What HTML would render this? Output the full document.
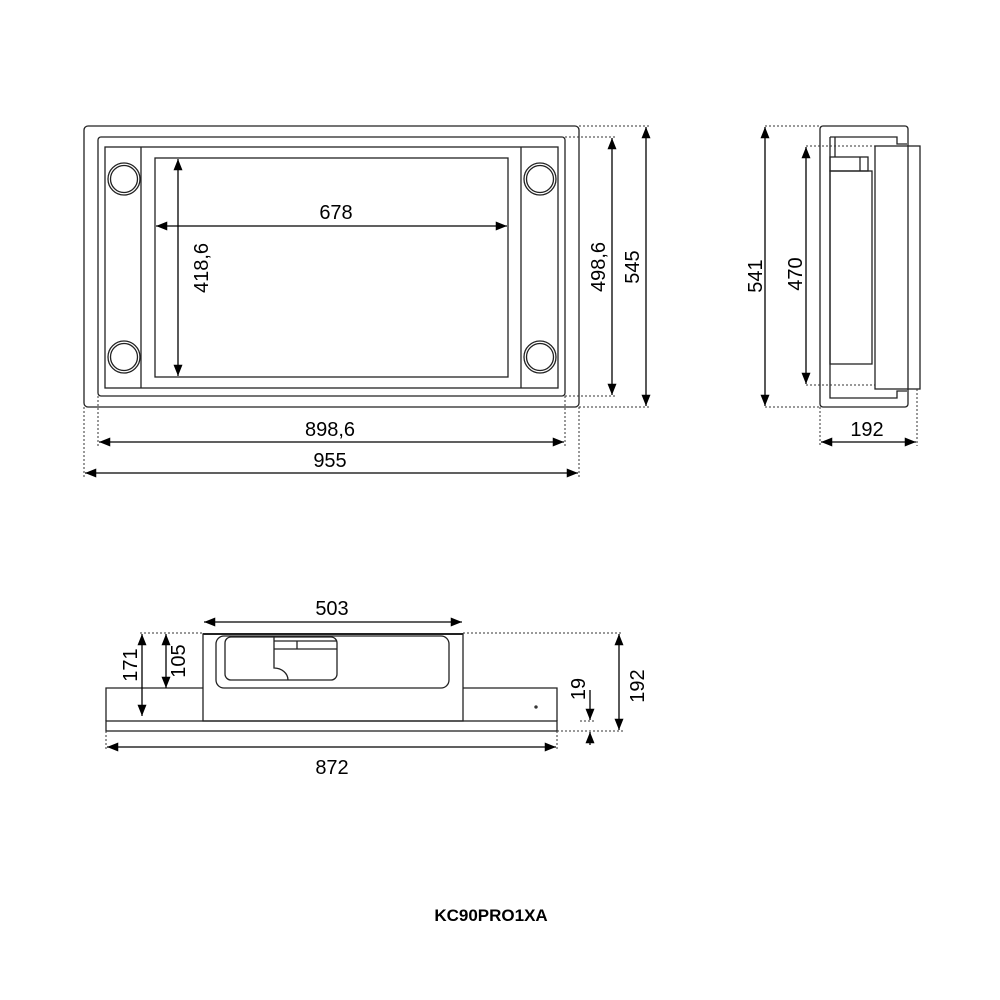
<!DOCTYPE html>
<html><head><meta charset="utf-8"><style>
html,body{margin:0;padding:0;background:#fff;width:1000px;height:1000px;overflow:hidden}
svg text{font-family:"Liberation Sans",Arial,sans-serif;font-size:20px;fill:#000}
</style></head><body>
<svg width="1000" height="1000" viewBox="0 0 1000 1000" xmlns="http://www.w3.org/2000/svg">
<defs>
<marker id="a" viewBox="0 0 10 8" refX="10" refY="4" markerWidth="12" markerHeight="9" markerUnits="userSpaceOnUse" orient="auto-start-reverse"><path d="M0,0L10,4L0,8z" fill="#000"/></marker>
</defs>
<g fill="none" stroke="#222" stroke-width="1.3">
<rect x="84" y="126" width="495" height="281" rx="4"/>
<rect x="98" y="137" width="467" height="259" rx="3"/>
<rect x="105" y="147" width="453" height="241"/>
<line x1="141" y1="147" x2="141" y2="388"/>
<line x1="521" y1="147" x2="521" y2="388"/>
<rect x="155" y="158" width="353" height="219"/>
<circle cx="124" cy="179" r="16"/><circle cx="124" cy="179" r="13.5"/>
<circle cx="540" cy="179" r="16"/><circle cx="540" cy="179" r="13.5"/>
<circle cx="124" cy="357" r="16"/><circle cx="124" cy="357" r="13.5"/>
<circle cx="540" cy="357" r="16"/><circle cx="540" cy="357" r="13.5"/>
<rect x="820" y="126" width="88" height="281" rx="3"/>
<path d="M830,137H897V144H907"/>
<path d="M830,137V398H897V391H907"/>
<line x1="835" y1="137" x2="835" y2="157"/>
<rect x="875" y="146" width="45" height="243"/>
<rect x="830" y="157" width="38" height="14"/>
<line x1="860" y1="157" x2="860" y2="171"/>
<rect x="830" y="171" width="42" height="193"/>
<path d="M106,721V688H203M463,688H557V721"/>
<rect x="106" y="721" width="451" height="10"/>
<rect x="203" y="634" width="260" height="87"/>
<line x1="203" y1="634" x2="463" y2="634" stroke-width="2"/>
<rect x="216" y="636" width="233" height="52" rx="8"/>
<rect x="225" y="637" width="112" height="43" rx="6"/>
<path d="M274,637V668A14,12 0 0 1 288,680"/>
<line x1="274" y1="641" x2="337" y2="641"/>
<line x1="274" y1="649" x2="337" y2="649"/>
<line x1="297" y1="641" x2="297" y2="649"/>
<circle cx="536" cy="707" r="1"/>
</g>
<g fill="none" stroke="#333" stroke-width="1" stroke-dasharray="2,2">
<path d="M579,126H650M565,137H616M565,396H616M579,407H650"/>
<path d="M98,396V446M565,396V446M84,407V477M579,407V477"/>
<path d="M765,126H820M806,146H875M806,385H875M765,407H820"/>
<path d="M820,407V446M917,389V446"/>
<path d="M140,633H203M463,633H623M557,731H623M106,731V750M557,731V750M580,721H596"/>
</g>
<g stroke="#000" stroke-width="1.3" fill="none">
<line x1="156" y1="226" x2="507" y2="226" marker-start="url(#a)" marker-end="url(#a)"/>
<line x1="178" y1="159" x2="178" y2="376" marker-start="url(#a)" marker-end="url(#a)"/>
<line x1="612" y1="138" x2="612" y2="395" marker-start="url(#a)" marker-end="url(#a)"/>
<line x1="646" y1="127" x2="646" y2="406" marker-start="url(#a)" marker-end="url(#a)"/>
<line x1="99" y1="442" x2="564" y2="442" marker-start="url(#a)" marker-end="url(#a)"/>
<line x1="85" y1="473" x2="578" y2="473" marker-start="url(#a)" marker-end="url(#a)"/>
<line x1="765" y1="127" x2="765" y2="406" marker-start="url(#a)" marker-end="url(#a)"/>
<line x1="806" y1="147" x2="806" y2="384" marker-start="url(#a)" marker-end="url(#a)"/>
<line x1="821" y1="442" x2="916" y2="442" marker-start="url(#a)" marker-end="url(#a)"/>
<line x1="204" y1="622" x2="462" y2="622" marker-start="url(#a)" marker-end="url(#a)"/>
<line x1="142" y1="634" x2="142" y2="716" marker-start="url(#a)" marker-end="url(#a)"/>
<line x1="166" y1="634" x2="166" y2="688" marker-start="url(#a)" marker-end="url(#a)"/>
<line x1="619" y1="634" x2="619" y2="730" marker-start="url(#a)" marker-end="url(#a)"/>
<line x1="107" y1="747" x2="556" y2="747" marker-start="url(#a)" marker-end="url(#a)"/>
<line x1="590" y1="690" x2="590" y2="720" marker-end="url(#a)"/>
<line x1="590" y1="745" x2="590" y2="732" marker-end="url(#a)"/>
</g>
<g>
<text x="336" y="219" text-anchor="middle">678</text>
<text transform="translate(208,268) rotate(-90)" text-anchor="middle">418,6</text>
<text transform="translate(605,267) rotate(-90)" text-anchor="middle">498,6</text>
<text transform="translate(639,267) rotate(-90)" text-anchor="middle">545</text>
<text x="330" y="436" text-anchor="middle">898,6</text>
<text x="330" y="467" text-anchor="middle">955</text>
<text transform="translate(762,276) rotate(-90)" text-anchor="middle">541</text>
<text transform="translate(802,274) rotate(-90)" text-anchor="middle">470</text>
<text x="867" y="436" text-anchor="middle">192</text>
<text x="332" y="615" text-anchor="middle">503</text>
<text transform="translate(137,665) rotate(-90)" text-anchor="middle">171</text>
<text transform="translate(185,661) rotate(-90)" text-anchor="middle">105</text>
<text transform="translate(585,689) rotate(-90)" text-anchor="middle">19</text>
<text transform="translate(644,686) rotate(-90)" text-anchor="middle">192</text>
<text x="332" y="774" text-anchor="middle">872</text>
<text x="491" y="921" text-anchor="middle" style="font-size:17px;font-weight:bold">KC90PRO1XA</text>
</g>
</svg>
</body></html>
